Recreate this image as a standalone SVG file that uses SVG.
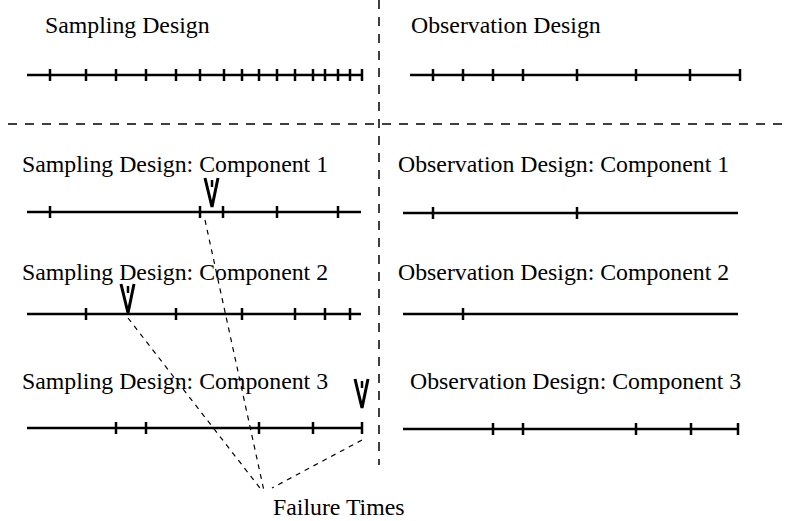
<svg xmlns="http://www.w3.org/2000/svg" width="785" height="521" viewBox="0 0 785 521">
<style>
.t{font-family:"Liberation Serif","Times New Roman",serif;font-size:23.8px;fill:#000}
.ax{stroke:#000;stroke-width:2.5;fill:none}
.tk{stroke:#000;stroke-width:2.5}
.dv{stroke:#000;stroke-width:1.5;stroke-dasharray:9,8;fill:none}
.df{stroke:#000;stroke-width:1.2;stroke-dasharray:5,5;fill:none}
.ar{stroke:#000;stroke-width:3;fill:none;stroke-linejoin:miter}
</style>
<defs>
<path id="tick" d="M0,-6V6" class="tk"/>
<g id="fail"><path d="M-7,-29L0,0L6,-29" class="ar"/><path d="M0,-27V-20" class="tk"/></g>
</defs>
<rect width="785" height="521" fill="#fff"/>
<g id="dividers">
<path d="M379,0V465" class="dv"/>
<path d="M8,124H785" class="dv"/>
</g>
<g id="sampling-design">
<text class="t" x="45" y="33">Sampling Design</text>
<path d="M27,75H362" class="ax"/>
<g transform="translate(0,75)">
<use href="#tick" x="50"/><use href="#tick" x="86"/><use href="#tick" x="116"/><use href="#tick" x="146"/><use href="#tick" x="176"/><use href="#tick" x="200"/><use href="#tick" x="224"/><use href="#tick" x="242"/><use href="#tick" x="259"/><use href="#tick" x="277"/><use href="#tick" x="295"/><use href="#tick" x="313"/><use href="#tick" x="325"/><use href="#tick" x="338"/><use href="#tick" x="350"/><use href="#tick" x="362"/>
</g>
</g>
<g id="observation-design">
<text class="t" x="411" y="33">Observation Design</text>
<path d="M410,75H741" class="ax"/>
<g transform="translate(0,75)">
<use href="#tick" x="433"/><use href="#tick" x="463"/><use href="#tick" x="493"/><use href="#tick" x="523"/><use href="#tick" x="577"/><use href="#tick" x="636"/><use href="#tick" x="690"/><use href="#tick" x="740"/>
</g>
</g>
<g id="sampling-c1">
<text class="t" x="22" y="172">Sampling Design: Component 1</text>
<path d="M27,212H361" class="ax"/>
<g transform="translate(0,212)">
<use href="#tick" x="50"/><use href="#tick" x="200"/><use href="#tick" x="223"/><use href="#tick" x="277"/><use href="#tick" x="338"/>
</g>
<use href="#fail" x="212" y="207"/>
</g>
<g id="observation-c1">
<text class="t" x="398" y="172">Observation Design: Component 1</text>
<path d="M403,213H738" class="ax"/>
<g transform="translate(0,213)"><use href="#tick" x="433"/><use href="#tick" x="577"/></g>
</g>
<g id="sampling-c2">
<text class="t" x="22" y="280">Sampling Design: Component 2</text>
<path d="M27,314H361" class="ax"/>
<g transform="translate(0,314)">
<use href="#tick" x="86"/><use href="#tick" x="176"/><use href="#tick" x="242"/><use href="#tick" x="295"/><use href="#tick" x="325"/><use href="#tick" x="350"/>
</g>
<use href="#fail" x="128" y="313"/>
</g>
<g id="observation-c2">
<text class="t" x="398" y="280">Observation Design: Component 2</text>
<path d="M403,314H738" class="ax"/>
<g transform="translate(0,314)"><use href="#tick" x="463"/></g>
</g>
<g id="sampling-c3">
<text class="t" x="22" y="389">Sampling Design: Component 3</text>
<path d="M27,428H362" class="ax"/>
<g transform="translate(0,428)">
<use href="#tick" x="116"/><use href="#tick" x="146"/><use href="#tick" x="259"/><use href="#tick" x="313"/><use href="#tick" x="362"/>
</g>
<use href="#fail" x="362" y="408"/>
</g>
<g id="observation-c3">
<text class="t" x="410" y="389">Observation Design: Component 3</text>
<path d="M403,429H738" class="ax"/>
<g transform="translate(0,429)">
<use href="#tick" x="493"/><use href="#tick" x="523"/><use href="#tick" x="636"/><use href="#tick" x="691"/><use href="#tick" x="738"/>
</g>
</g>
<g id="connectors">
<path d="M205,220L264,491" class="df"/>
<path d="M128,318L263,492" class="df"/>
<path d="M362,440L272,488" class="df"/>
</g>
<g id="failure-times">
<text class="t" x="273" y="515">Failure Times</text>
</g>
</svg>
